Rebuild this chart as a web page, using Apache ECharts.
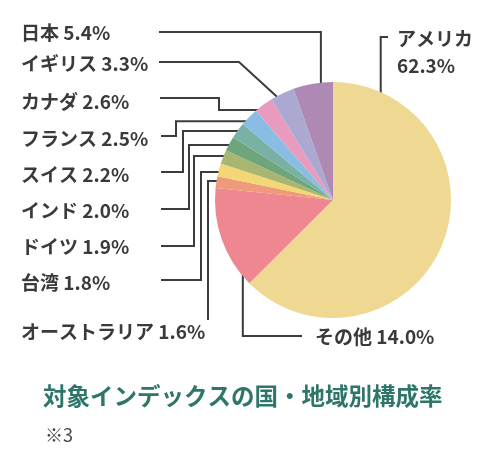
<!DOCTYPE html>
<html>
<head>
<meta charset="utf-8">
<script src="https://cdn.jsdelivr.net/npm/echarts@6/dist/echarts.min.js"></script>
<style>
html, body { margin: 0; padding: 0; background: #fff; }
#chart { width: 496px; height: 464px; }
</style>
</head>
<body>
<div id="chart"></div>
<script>
// clockwise from 12 o'clock
const countries = ['アメリカ', 'その他', 'オーストラリア', '台湾', 'ドイツ', 'インド', 'スイス', 'フランス', 'カナダ', 'イギリス', '日本'];
const shares = [62.3, 14.0, 1.6, 1.8, 1.9, 2.0, 2.2, 2.5, 2.6, 3.3, 5.4];
const sliceColors = ['#efd891', '#ee8790', '#ef9a7a', '#f3d775', '#a9b672', '#6ea57b', '#79b2a5', '#89bde3', '#e89bbe', '#aba9d2', '#ae89b4'];

const titleText = '対象インデックスの国・地域別構成率';
const noteText = '※3';

// pie geometry
const CX = 333, CY = 200, R = 118;

// label position (left edge, middle) for each slice
const labelPos = [[397, 52], [315, 337], [21, 332], [21, 283], [21, 247], [21, 211], [21, 175], [21, 139], [21, 102], [21, 64], [21, 33]];
// leader routes from the label side; 'ex' / 'ey' snap to the end point inside the slice
const routes = [
    [[388, 37], ['ex', 37]],
    [[302, 336], ['ex', 336]],
    [[208, 320], [208, 'ey']],
    [[161, 280], [201, 280], [201, 'ey']],
    [[161, 246], [194, 246], [194, 'ey']],
    [[161, 209], [189, 209], [189, 'ey']],
    [[161, 172], [183, 172], [183, 'ey']],
    [[161, 136], [176, 136], [176, 'ey']],
    [[160, 98], [219, 98], [219, 'ey']],
    [[159, 62], [239, 62]],
    [[159, 32], ['ex', 32]]
];
// where the leader ends inside its slice: [fraction of slice angle, fraction of radius]
const anchors = [[0.12, 0.89], [0.12, 0.98], [0.76, 0.91], [0.65, 0.87], [0.63, 0.98], [0.53, 0.97], [0.56, 0.98], [0.31, 0.98], [0.53, 0.94], [0.45, 0.89], [0.58, 0.72]];

const total = shares.reduce((a, b) => a + b, 0);

function endPoint(i) {
    const before = shares.slice(0, i).reduce((a, b) => a + b, 0);
    const theta = (before + anchors[i][0] * shares[i]) / total * Math.PI * 2;
    const r = anchors[i][1] * R;
    return [CX + r * Math.sin(theta), CY - r * Math.cos(theta)];
}

function leader(i) {
    const e = endPoint(i);
    const pts = routes[i].map(p => [p[0] === 'ex' ? e[0] : p[0], p[1] === 'ey' ? e[1] : p[1]]);
    pts.push(e);
    return pts;
}

const chart = echarts.init(document.getElementById('chart'));

const option = {
    animation: false,
    backgroundColor: '#fff',
    title: [
        {
            text: titleText,
            left: 43,
            top: 381,
            padding: 0,
            textStyle: { fontFamily: 'Noto Sans CJK JP', fontSize: 23.5, fontWeight: 'bold', color: '#2e756a', lineHeight: 30 }
        },
        {
            text: noteText,
            left: 45,
            top: 424,
            padding: 0,
            textStyle: { fontFamily: 'Noto Sans CJK JP', fontSize: 18, fontWeight: 'normal', color: '#444', lineHeight: 22 }
        }
    ],
    series: [
        {
            type: 'pie',
            center: [CX, CY],
            radius: R,
            startAngle: 90,
            clockwise: true,
            avoidLabelOverlap: false,
            silent: true,
            data: countries.map((name, i) => ({
                name: name,
                value: shares[i],
                itemStyle: { color: sliceColors[i] }
            })),
            label: {
                show: true,
                position: 'outside',
                width: 240,
                overflow: 'none',
                fontFamily: 'Noto Sans CJK JP',
                fontSize: 19,
                fontWeight: 'bold',
                color: '#3a3a3a',
                lineHeight: 27,
                formatter: p => p.dataIndex === 0
                    ? p.name + '\n' + p.value.toFixed(1) + '%'
                    : p.name + ' ' + p.value.toFixed(1) + '%'
            },
            labelLine: {
                show: true,
                length: 10,
                length2: 10,
                lineStyle: { color: '#3c3c3c', width: 2 }
            },
            labelLayout: params => ({
                x: labelPos[params.dataIndex][0],
                y: labelPos[params.dataIndex][1],
                align: 'left',
                verticalAlign: 'middle',
                labelLinePoints: leader(params.dataIndex)
            })
        }
    ]
};

chart.setOption(option);
</script>
</body>
</html>
